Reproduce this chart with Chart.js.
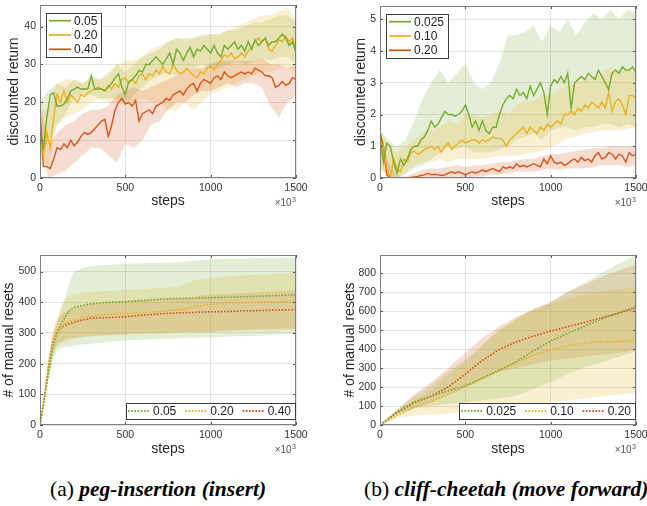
<!DOCTYPE html>
<html>
<head>
<meta charset="utf-8">
<script src="https://cdn.jsdelivr.net/npm/chart.js@4.4.1/dist/chart.umd.min.js"></script>
<style>
  body { margin: 0; width: 647px; height: 506px; overflow: hidden; background: #fff; position: relative; }
  canvas { position: absolute; }
  .cap { position: absolute; top: 479px; font: 21.5px "Liberation Serif", serif; line-height: 21.5px; white-space: nowrap; color: #000; }
  .cap b { font-style: italic; }
</style>
</head>
<body>
<canvas id="pegReturn" width="320" height="215" style="left:0;top:0"></canvas>
<canvas id="cheetahReturn" width="327" height="215" style="left:320px;top:0"></canvas>
<canvas id="pegResets" width="320" height="230" style="left:0;top:240px"></canvas>
<canvas id="cheetahResets" width="327" height="230" style="left:320px;top:240px"></canvas>
<div class="cap" style="left:50px">(a) <b>peg-insertion (insert)</b></div>
<div class="cap" style="left:364px">(b) <b>cliff-cheetah (move forward)</b></div>
<script>
// x ticks (thousands of steps)
const stepTicks = [0, 500, 1000, 1500];

// --- discounted return, sampled every 20k steps ---
const meanSteps = [0,20,40,60,80,100,120,140,160,180,200,220,240,260,280,300,320,340,360,380,
  400,420,440,460,480,500,520,540,560,580,600,620,640,660,680,700,720,740,760,780,
  800,820,840,860,880,900,920,940,960,980,1000,1020,1040,1060,1080,1100,1120,1140,1160,1180,
  1200,1220,1240,1260,1280,1300,1320,1340,1360,1380,1400,1420,1440,1460,1480,1500];
// spread bands every 50k steps
const bandSteps = [0,50,100,150,200,250,300,350,400,450,500,550,600,650,700,750,800,850,900,950,
  1000,1050,1100,1150,1200,1250,1300,1350,1400,1450,1500];

// peg-insertion
const pegLabels = ['0.05', '0.20', '0.40'];
const pegReturnTicks = [0, 10, 20, 30, 40];
const pegReturn005 = [12,8,16,22,22.5,19,19,19.5,21,23, 23.5,24,23.5,23.5,23.5,27,23.5,23.5,23.5,23,
  24,25,26.5,27.5,24,22,25.5,26,27,28.5, 28,30,30,31,32,31,30,31.5,33,30,
  34,33,31,33,34.5,32,34,33.5,35,34, 33,35,33,32,35,34,35,36,34,35,
  33.5,36,34,36.5,35,36,37,35,36,36, 37,38,37,35,36,33];
const pegReturn020 = [10,6,12,8,16,22,20,23,20,22, 21,20,22,21.5,22.5,23,23.5,24,23.5,23,
  24.5,23.5,25,24,26,26.5,25,26,25,27, 27.5,26,27.5,27,28.5,27.5,29.5,28,27.5,30,
  28.5,27.5,28,29,28,27,26.5,28,27.5,29, 29.5,28.5,30,31,32.5,32,33,31.5,32,33,
  32,33.5,34.5,36,37,36,37,34,33.5,35, 36.5,36,37.5,36,37,34];
const pegReturn040 = [17.5,3,3,2.5,5,8,7.5,9,8,10, 8.5,9.5,11,12,11.5,12,13,14,15,15.5,
  11,14,18,20,21,19.5,20,19,20.5,15, 17,17.5,18,17,19,19.5,20,21,20.5,22,
  22.5,23,22,23.5,24.5,25,23,25,26,25.5, 25,26.5,27,26,28,27,26.5,27,27.5,28,
  27.5,28,27.5,29,28.5,28,27,27,26.5,24, 24.5,25.5,24.5,25,26.5,26];
const pegReturn005Lo = [5,10,14,17,21,22,22,21,21,21,19,22,24,26,27,28,27,28,29,30,29,29,30,31,30,31,32,31,32,32,30];
const pegReturn005Hi = [20,23,25,24,26,25,27,26,27,30,28,30,32,33,34,36,37,37,37,38,38,38,39,39,40,41,41,42,43,43,41];
const pegReturn020Lo = [3,3,14,16,17,18,20,21,20,20,21,20,21,20,20,18,18,20,18,20,22,23,24,25,26,27,28,28,29,29,28];
const pegReturn020Hi = [18,18,25,26,26,25,26,26,28,30,31,31,32,34,35,36,37,36,37,37,38,38,39,40,41,42,43,43,44,45,42];
const pegReturn040Lo = [8,0,1,2,4,6,8,8,6,4,9,8,10,14,15,18,20,20,22,23,23,24,25,24,25,25,24,19,16,20,22];
const pegReturn040Hi = [20,8,12,14,15,17,18,18,19,22,23,24,23,24,25,26,27,28,29,29,30,31,31,31,31,31,32,30,30,29,30];

// cliff-cheetah
const cheetahLabels = ['0.025', '0.10', '0.20'];
const cheetahReturnTicks = [0, 1, 2, 3, 4, 5];
const cheetahReturn0025 = [1.4,0.5,1.1,1.0,0.5,0.15,0.6,0.4,0.6,0.9, 1.0,1.0,1.2,1.3,1.5,1.8,1.6,1.7,1.9,2.1,
  2.0,2.0,1.95,2.0,2.1,2.3,2.0,1.6,1.8,1.5, 1.8,1.5,1.4,1.6,1.6,2.0,2.3,2.5,2.6,2.5,
  2.8,2.6,2.7,2.5,2.9,2.6,2.8,3.0,2.7,2.0, 2.9,3.1,3.0,3.2,3.0,3.3,2.2,3.0,3.1,3.2,
  3.1,3.3,3.2,3.1,3.4,3.2,3.0,2.8,3.3,3.4, 3.3,3.5,3.4,3.4,3.5,3.3];
const cheetahReturn010 = [1.2,1.0,0.3,0.0,0.6,0.3,0.2,0.6,0.5,0.8, 0.85,0.75,0.8,0.9,0.95,1.0,0.9,1.0,0.8,1.0,
  1.1,0.9,1.0,1.1,1.2,1.1,1.15,1.2,1.2,1.1, 1.2,1.15,1.2,1.3,1.25,1.25,1.2,1.0,1.2,1.3,
  1.4,1.5,1.6,1.4,1.6,1.5,1.4,1.6,1.5,1.7, 1.6,1.7,1.8,1.7,2.0,2.0,2.1,2.0,2.2,2.1,
  2.3,2.2,2.4,2.3,2.2,2.4,2.2,2.7,2.1,2.4, 2.5,2.3,2.0,2.6,2.6,2.5];
const cheetahReturn020 = [1.45,1.0,0.1,0,0,0,0,0,0,0.02, 0.03,0.05,0.08,0.1,0.15,0.1,0.12,0.1,0.08,0.1,
  0.15,0.2,0.15,0.2,0.15,0.1,0.15,0.2,0.15,0.2, 0.25,0.2,0.25,0.3,0.25,0.2,0.35,0.3,0.35,0.3,
  0.45,0.35,0.4,0.35,0.4,0.45,0.4,0.35,0.6,0.45, 0.7,0.5,0.45,0.5,0.4,0.45,0.55,0.6,0.5,0.65,
  0.55,0.6,0.5,0.7,0.8,0.6,0.65,0.8,0.75,0.6, 0.75,0.7,0.5,0.8,0.7,0.75];
const cheetahReturn0025Lo = [0.3,0.1,0,0.1,0.3,0.4,0.6,0.8,1.0,0.9,1.0,0.8,0.8,0.8,0.9,1.0,1.2,1.3,1.4,1.2,1.5,1.6,1.6,1.5,1.6,1.6,1.7,1.7,1.6,1.7,1.6];
const cheetahReturn0025Hi = [1.5,1.2,1.0,1.2,1.8,2.5,3.0,3.4,3.0,3.3,3.6,3.0,2.8,3.0,3.6,4.5,4.5,4.6,4.8,4.3,4.8,4.6,5.0,4.5,4.9,5.2,5.0,5.3,5.0,5.3,5.2];
const cheetahReturn010Lo = [0.3,0,0,0.2,0.4,0.5,0.5,0.6,0.5,0.6,0.6,0.6,0.6,0.65,0.7,0.7,0.7,0.75,0.8,0.85,0.95,1.1,1.25,1.3,1.4,1.45,1.5,1.5,1.5,1.55,1.6];
const cheetahReturn010Hi = [1.5,1.0,0.8,1.0,1.2,1.4,1.5,1.6,1.8,1.7,2.0,2.0,1.9,2.0,2.1,2.0,2.3,2.4,2.4,2.6,2.6,2.8,2.9,3.0,3.1,3.2,3.3,3.5,3.4,3.4,3.3];
const cheetahReturn020Lo = [0.8,0,0,0,0,0,0,0,0,0.05,0,0.05,0.05,0.1,0.1,0.15,0.2,0.2,0.2,0.25,0.3,0.25,0.3,0.3,0.3,0.35,0.4,0.4,0.4,0.35,0.4];
const cheetahReturn020Hi = [1.5,0.5,0.05,0.05,0.15,0.25,0.3,0.3,0.35,0.4,0.35,0.4,0.4,0.45,0.5,0.5,0.55,0.6,0.6,0.7,0.75,0.75,0.8,0.85,0.9,0.95,0.95,1.0,1.0,1.0,1.05];

// --- number of manual resets ---
const pegResetSteps = [0,25,50,75,100,125,150,175,200,250,300,400,500,600,700,800,850,900,1000,1100,1200,1300,1400,1500];
const pegResetTicks = [0, 100, 200, 300, 400, 500];
const pegResets005 = [0,80,170,250,300,330,355,375,383,390,395,400,402,405,410,412,412,413,415,417,418,420,422,425];
const pegResets020 = [0,85,180,260,305,320,330,337,342,350,355,360,363,365,370,375,378,385,393,397,398,400,401,402];
const pegResets040 = [0,90,190,270,305,318,325,330,335,342,348,350,353,358,362,365,366,367,369,370,372,373,375,376];
const pegResets005Lo = [0,70,150,210,240,250,255,256,258,262,265,270,275,278,280,282,283,284,285,288,290,292,294,295];
const pegResets005Hi = [0,95,200,280,330,380,420,470,500,512,518,522,525,527,528,530,532,535,540,542,543,544,545,546];
const pegResets020Lo = [0,75,160,225,255,265,270,275,280,285,290,293,295,297,298,299,300,300,302,305,307,308,309,310];
const pegResets020Hi = [0,100,210,300,350,390,410,420,428,432,435,437,440,443,446,450,458,470,480,485,488,490,492,495];
const pegResets040Lo = [0,80,170,235,265,275,280,283,285,288,290,293,295,298,300,302,303,304,305,308,310,312,313,315];
const pegResets040Hi = [0,110,220,300,340,360,370,376,380,388,395,400,405,410,412,415,416,418,425,428,430,433,436,440];

const cheetahResetSteps = [0,100,200,300,400,500,600,700,800,900,1000,1100,1200,1300,1400,1500];
const cheetahResetTicks = [0, 100, 200, 300, 400, 500, 600, 700, 800];
const cheetahResets0025 = [0,70,122,152,180,205,248,290,335,390,442,482,520,558,590,625];
const cheetahResets010 = [0,50,95,122,160,200,244,288,330,368,395,418,432,438,440,445];
const cheetahResets020 = [0,65,117,152,200,268,340,398,438,468,494,518,540,565,590,615];
const cheetahResets0025Lo = [0,60,85,100,110,120,130,140,155,190,225,270,305,330,360,385];
const cheetahResets0025Hi = [0,80,150,210,280,345,420,500,560,610,650,700,750,800,850,893];
const cheetahResets010Lo = [0,35,50,55,60,66,80,95,105,112,118,130,140,150,160,168];
const cheetahResets010Hi = [0,75,130,180,260,330,420,500,560,605,640,665,690,705,715,727];
const cheetahResets020Lo = [0,55,90,120,160,200,240,280,300,320,340,350,360,370,380,395];
const cheetahResets020Hi = [0,80,160,225,300,380,460,520,570,610,645,700,740,780,815,845];

const GREEN = '119,172,48', ORANGE = '237,177,32', RED = '217,83,25';
const FONT = '"Liberation Sans", Arial, sans-serif';
Chart.defaults.font.family = FONT;
Chart.defaults.animation = false;

const pts = (xs, ys) => xs.map((x, i) => ({ x, y: ys[i] }));

function band(xs, lo, hi, rgb) {
  return [
    { data: pts(xs, lo), borderWidth: 0, borderColor: 'transparent', pointRadius: 0, fill: false, order: 2 },
    { data: pts(xs, hi), borderWidth: 0, borderColor: 'transparent', pointRadius: 0, fill: '-1',
      backgroundColor: `rgba(${rgb},0.2)`, order: 2 },
  ];
}

function line(label, xs, ys, rgb, dotted) {
  return { label, data: pts(xs, ys), borderColor: `rgb(${rgb})`, borderWidth: dotted ? 1.6 : 1.4,
    borderDash: dotted ? [1.6, 1.6] : [], pointRadius: 0, fill: false, order: 1 };
}

// box, inward ticks, x10^3 and the in-axes legend
const frame = {
  id: 'frame',
  afterDraw(chart, args, opts) {
    const { ctx, chartArea: a } = chart;
    ctx.save();
    ctx.strokeStyle = '#555';
    ctx.lineWidth = 1;
    ctx.beginPath();
    chart.scales.x.ticks.forEach(t => {
      const px = Math.round(chart.scales.x.getPixelForValue(t.value)) + 0.5;
      ctx.moveTo(px, a.bottom); ctx.lineTo(px, a.bottom - 3);
      ctx.moveTo(px, a.top); ctx.lineTo(px, a.top + 3);
    });
    chart.scales.y.ticks.forEach(t => {
      const py = Math.round(chart.scales.y.getPixelForValue(t.value)) + 0.5;
      ctx.moveTo(a.left, py); ctx.lineTo(a.left + 3, py);
      ctx.moveTo(a.right, py); ctx.lineTo(a.right - 3, py);
    });
    ctx.stroke();
    ctx.strokeStyle = '#7f7f7f';
    ctx.strokeRect(Math.round(a.left) + 0.5, Math.round(a.top) + 0.5,
      Math.round(a.right - a.left) - 1, Math.round(a.bottom - a.top) - 1);

    // x10^3
    ctx.fillStyle = '#555';
    ctx.textBaseline = 'alphabetic';
    ctx.textAlign = 'left';
    ctx.font = '7px ' + FONT;
    const supW = ctx.measureText('3').width;
    ctx.fillText('3', a.right - supW, a.bottom + 24);
    ctx.font = '10px ' + FONT;
    ctx.textAlign = 'right';
    ctx.fillText('\u00d710', a.right - supW - 0.5, a.bottom + 28);

    // legend
    const items = chart.data.datasets.filter(d => d.label);
    ctx.font = '12px ' + FONT;
    ctx.textAlign = 'left';
    ctx.textBaseline = 'middle';
    const lineLen = 22, gap = 3;
    const drawItem = (d, x, y) => {
      ctx.strokeStyle = d.borderColor;
      ctx.lineWidth = d.borderWidth + 0.3;
      ctx.setLineDash(d.borderDash);
      ctx.beginPath(); ctx.moveTo(x, y); ctx.lineTo(x + lineLen, y); ctx.stroke();
      ctx.setLineDash([]);
      ctx.fillStyle = '#222';
      ctx.fillText(d.label, x + lineLen + gap, y + 0.5);
    };
    let x0, y0, w, h;
    if (opts.legend === 'column') {
      const tw = Math.max(...items.map(d => ctx.measureText(d.label).width));
      w = 3 + lineLen + gap + tw + 4; h = 44;
      x0 = Math.round(a.left) + 6; y0 = Math.round(a.top) + 8;
      box(ctx, x0, y0, w, h);
      items.forEach((d, i) => drawItem(d, x0 + 3, y0 + 7.7 + i * 14.3));
    } else {
      const tws = items.map(d => ctx.measureText(d.label).width);
      w = 2 + tws.reduce((s, t) => s + lineLen + gap + t, 0) + 9 * (items.length - 1) + 4; h = 16;
      x0 = Math.round(a.right) - 1 - w; y0 = Math.round(a.bottom) - 6 - h;
      box(ctx, x0, y0, w, h);
      let x = x0 + 2;
      items.forEach((d, i) => { drawItem(d, x, y0 + h / 2); x += lineLen + gap + tws[i] + 9; });
    }
    ctx.restore();
  }
};

function box(ctx, x, y, w, h) {
  ctx.fillStyle = '#fff';
  ctx.fillRect(x, y, w, h);
  ctx.strokeStyle = '#3c3c3c';
  ctx.lineWidth = 1;
  ctx.setLineDash([]);
  ctx.strokeRect(Math.round(x) + 0.5, Math.round(y) + 0.5, Math.round(w), Math.round(h));
}

function makeChart(id, datasets, cfg) {
  const tickFont = { size: 10.5 };
  const grid = { color: 'rgba(38,38,38,0.13)', drawTicks: false };
  return new Chart(document.getElementById(id), {
    type: 'line',
    data: { datasets },
    options: {
      responsive: false,
      layout: { padding: cfg.padding },
      plugins: { legend: { display: false }, tooltip: { enabled: false }, frame: { legend: cfg.legend } },
      scales: {
        x: {
          type: 'linear', min: 0, max: 1500,
          afterBuildTicks: s => { s.ticks = stepTicks.map(v => ({ value: v })); },
          afterFit: s => { s.height = cfg.xHeight; s.paddingLeft = 0; s.paddingRight = 0; },
          grid, border: { display: false },
          ticks: { padding: 4, color: '#333', font: tickFont, autoSkip: false, maxRotation: 0, callback: v => String(v) },
          title: { display: true, text: 'steps', color: '#262626', font: { size: 14 }, padding: { top: 0, bottom: cfg.xTitlePad } },
        },
        y: {
          type: 'linear', min: 0, max: cfg.yMax,
          afterBuildTicks: s => { s.ticks = cfg.yTicks.map(v => ({ value: v })); },
          afterFit: s => { s.width = cfg.yWidth; s.paddingTop = 0; s.paddingBottom = 0; },
          grid, border: { display: false },
          ticks: { padding: 4, color: '#333', font: tickFont, autoSkip: false, callback: v => String(v) },
          title: { display: true, text: cfg.yTitle, color: '#262626', font: { size: 14 }, padding: { top: cfg.yTitlePad, bottom: 0 } },
        },
      },
    },
    plugins: [frame],
  });
}

makeChart('pegReturn', [
  ...band(bandSteps, pegReturn040Lo, pegReturn040Hi, RED),
  ...band(bandSteps, pegReturn020Lo, pegReturn020Hi, ORANGE),
  ...band(bandSteps, pegReturn005Lo, pegReturn005Hi, GREEN),
  line(pegLabels[0], meanSteps, pegReturn005, GREEN),
  line(pegLabels[1], meanSteps, pegReturn020, ORANGE),
  line(pegLabels[2], meanSteps, pegReturn040, RED),
], { padding: { left: 0, top: 5, right: 24, bottom: 0 }, xHeight: 37, xTitlePad: 5, yWidth: 40, yTitlePad: 6,
     yMax: 45.7, yTicks: pegReturnTicks, yTitle: 'discounted return', legend: 'column' });

makeChart('cheetahReturn', [
  ...band(bandSteps, cheetahReturn020Lo, cheetahReturn020Hi, RED),
  ...band(bandSteps, cheetahReturn010Lo, cheetahReturn010Hi, ORANGE),
  ...band(bandSteps, cheetahReturn0025Lo, cheetahReturn0025Hi, GREEN),
  line(cheetahLabels[0], meanSteps, cheetahReturn0025, GREEN),
  line(cheetahLabels[1], meanSteps, cheetahReturn010, ORANGE),
  line(cheetahLabels[2], meanSteps, cheetahReturn020, RED),
], { padding: { left: 0, top: 6, right: 11, bottom: 0 }, xHeight: 37, xTitlePad: 5, yWidth: 60, yTitlePad: 33,
     yMax: 5.42, yTicks: cheetahReturnTicks, yTitle: 'discounted return', legend: 'column' });

makeChart('pegResets', [
  ...band(pegResetSteps, pegResets005Lo, pegResets005Hi, GREEN),
  ...band(pegResetSteps, pegResets020Lo, pegResets020Hi, ORANGE),
  ...band(pegResetSteps, pegResets040Lo, pegResets040Hi, RED),
  line(pegLabels[0], pegResetSteps, pegResets005, GREEN, true),
  line(pegLabels[1], pegResetSteps, pegResets020, ORANGE, true),
  line(pegLabels[2], pegResetSteps, pegResets040, RED, true),
], { padding: { left: 0, top: 15, right: 24, bottom: 0 }, xHeight: 45, xTitlePad: 12, yWidth: 40, yTitlePad: 1,
     yMax: 554, yTicks: pegResetTicks, yTitle: '# of manual resets', legend: 'row' });

makeChart('cheetahResets', [
  ...band(cheetahResetSteps, cheetahResets0025Lo, cheetahResets0025Hi, GREEN),
  ...band(cheetahResetSteps, cheetahResets010Lo, cheetahResets010Hi, ORANGE),
  ...band(cheetahResetSteps, cheetahResets020Lo, cheetahResets020Hi, RED),
  line(cheetahLabels[0], cheetahResetSteps, cheetahResets0025, GREEN, true),
  line(cheetahLabels[1], cheetahResetSteps, cheetahResets010, ORANGE, true),
  line(cheetahLabels[2], cheetahResetSteps, cheetahResets020, RED, true),
], { padding: { left: 0, top: 15, right: 11, bottom: 0 }, xHeight: 45, xTitlePad: 12, yWidth: 60, yTitlePad: 22,
     yMax: 895, yTicks: cheetahResetTicks, yTitle: '# of manual resets', legend: 'row' });
</script>
</body>
</html>
